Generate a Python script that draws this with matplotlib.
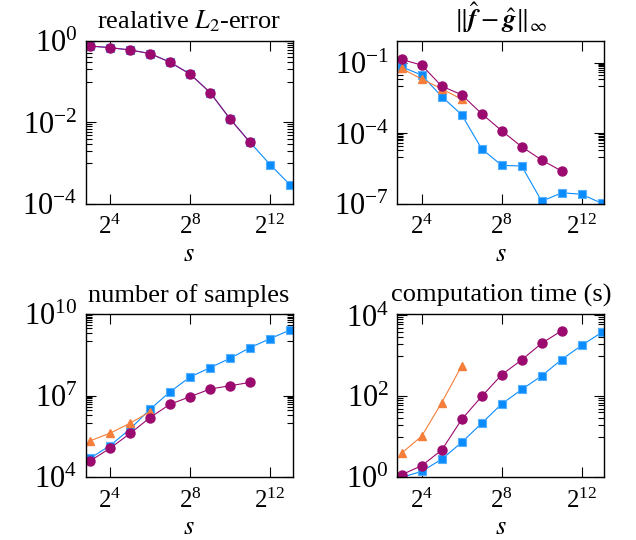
import numpy as np
import matplotlib
matplotlib.use("Agg")
import matplotlib.pyplot as plt
from matplotlib.ticker import FixedLocator, LogFormatterMathtext, NullFormatter

plt.rcParams['font.family'] = ['Liberation Serif', 'DejaVu Serif']
plt.rcParams['mathtext.fontset'] = 'stix'
plt.rcParams['font.size'] = 18

# s values (powers of two)
s_blue = [2**k for k in range(3, 14)]
s_purple = [2**k for k in range(3, 12)]
s_orange = [2**k for k in range(3, 7)]

# relative L2 error
l2_blue = [0.75, 0.685, 0.60, 0.49, 0.30, 0.154, 0.0543, 0.0122, 0.00324, 9.3e-4, 2.95e-4]
l2_purple = [0.75, 0.685, 0.60, 0.49, 0.30, 0.154, 0.0543, 0.0122, 0.00324]

# sup norm of coefficient difference
inf_blue = [0.0676, 0.030, 0.0037, 6.2e-4, 2.2e-5, 4.4e-6, 4.1e-6, 1.3e-7, 3.0e-7, 2.6e-7, 1.07e-7]
inf_purple = [0.139, 0.0796, 0.0102, 0.00439, 6.84e-4, 1.3e-4, 2.7e-5, 7.4e-6, 2.5e-6]
inf_orange = [0.0575, 0.0203, 0.0079, 0.0028]

# number of samples
ns_blue = [5.0e4, 1.47e5, 6.0e5, 3.2e6, 1.4e7, 4.9e7, 1.08e8, 2.38e8, 5.9e8, 1.26e9, 2.63e9]
ns_purple = [4.0e4, 1.17e5, 4.1e5, 1.58e6, 4.9e6, 9.2e6, 1.77e7, 2.34e7, 3.1e7]
ns_orange = [2.2e5, 4.2e5, 9.8e5, 2.6e6]

# computation time (s)
t_blue = [1.0, 1.4, 2.8, 7.3, 21.7, 65, 148, 322, 815, 1830, 3800]
t_purple = [1.16, 1.94, 4.7, 27, 100, 342, 800, 2050, 4200]
t_orange = [3.97, 10.4, 70, 568]

blue = '#0A8CFF'
purple = '#9B0A6E'
orange = '#F57F3A'

titles = ['realative $L_2$-error',
          r'$\|\hat{\boldsymbol{f}}-\hat{\boldsymbol{g}}\|_\infty$',
          'number of samples',
          'computation time (s)']
ylims = [(1e-4, 1e0), (1e-7, 10**-0.07), (1e4, 1e10), (1e0, 10**4.03)]
yticks = [[1e-4, 1e-2, 1e0], [1e-7, 1e-4, 1e-1], [1e4, 1e7, 1e10], [1e0, 1e2, 1e4]]
xticks = [2**4, 2**8, 2**12]

data = [
    (l2_blue, l2_purple, None),
    (inf_blue, inf_purple, inf_orange),
    (ns_blue, ns_purple, ns_orange),
    (t_blue, t_purple, t_orange),
]

fig = plt.figure(figsize=(6.36, 5.4), dpi=100)
lefts = [0.1347, 0.6247]
bottoms = [0.6222, 0.1161]
w = 0.4602 - 0.1347
h = 0.302

for i, (yb, yp, yo) in enumerate(data):
    ax = fig.add_axes([lefts[i % 2], bottoms[i // 2], w, h])
    ax.set_xscale('log', base=2)
    ax.set_yscale('log')
    ax.plot(s_blue, yb, color=blue, marker='s', ms=6, lw=0.8,
            mec='#55B0FF', mew=0.8)
    if yo is not None:
        ax.plot(s_orange, yo, color=orange, marker='^', ms=6, lw=0.8)
    ax.plot(s_purple, yp, color=purple, marker='o', ms=6.5, lw=0.8)

    ax.set_xlim(2**2.78, 2**13.13)
    ax.set_ylim(*ylims[i])
    ax.xaxis.set_major_locator(FixedLocator(xticks))
    ax.xaxis.set_major_formatter(LogFormatterMathtext(base=2))
    ax.xaxis.set_minor_locator(FixedLocator([]))
    ax.yaxis.set_major_locator(FixedLocator(yticks[i]))
    ax.yaxis.set_major_formatter(LogFormatterMathtext(base=10))
    minors = []
    for m in yticks[i]:
        for k in range(1, 10):
            minors.append(k * m / 10)
    ax.yaxis.set_minor_locator(FixedLocator(minors))
    ax.yaxis.set_minor_formatter(NullFormatter())
    ax.tick_params(which='both', direction='in', top=True, right=True, width=0.8)
    ax.tick_params(which='major', length=7)
    ax.tick_params(which='minor', length=4)
    ax.tick_params(axis='x', pad=8, labelsize=18)
    ax.tick_params(axis='y', pad=6, labelsize=22)
    for sp in ax.spines.values():
        sp.set_linewidth(1.0)
    ax.set_title(titles[i], fontsize=19, pad=9)
    ax.set_xlabel('$s$', labelpad=3, fontsize=19)

plt.savefig('out.png', dpi=100)
